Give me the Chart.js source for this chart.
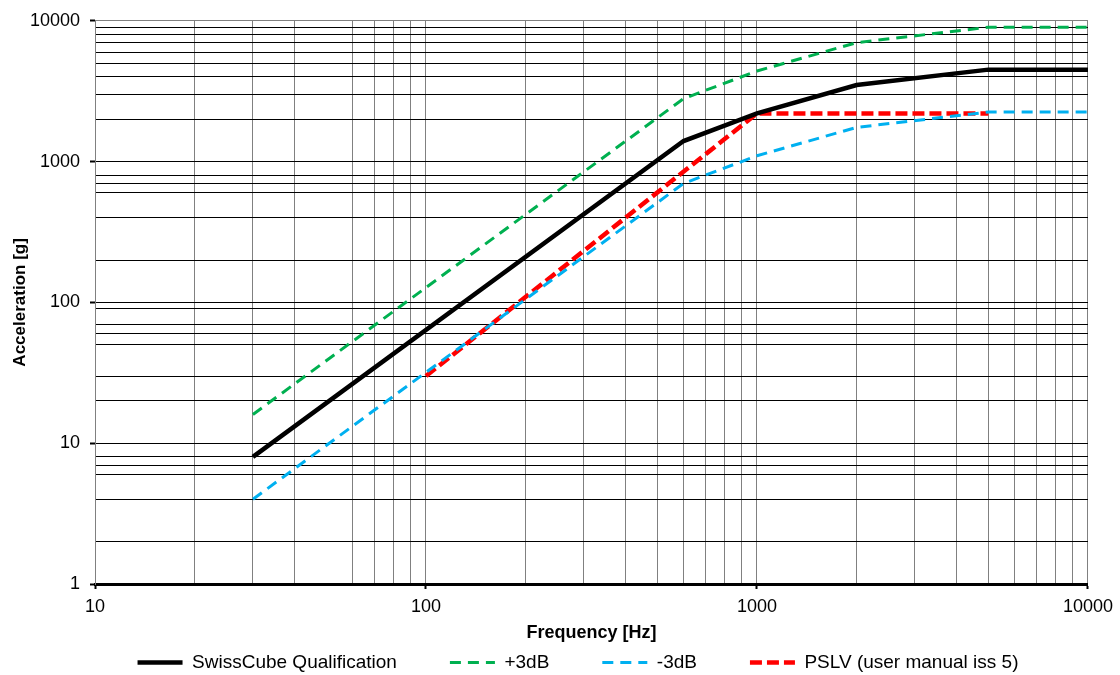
<!DOCTYPE html>
<html>
<head>
<meta charset="utf-8">
<script src="https://cdn.jsdelivr.net/npm/chart.js@4.4.0/dist/chart.umd.min.js"></script>
<style>
    html, body { margin: 0; padding: 0; background: #fff; }
    #wrap { width: 1120px; height: 675px; position: relative; }
</style>
</head>
<body>
<div id="wrap"><canvas id="shock-chart"></canvas></div>
<script>
// waarden (frequentie in Hz, versnelling in g)
const qualFreq = [30, 600, 1000, 2000, 5000, 10000];
const qualAcc = [8, 1400, 2200, 3500, 4500, 4500];

const plusFreq = [30, 600, 1000, 2000, 5000, 10000];
const plusAcc = [16, 2800, 4400, 7000, 9000, 9000];

const minFreq = [30, 600, 1000, 2000, 5000, 10000];
const minAcc = [4, 700, 1100, 1750, 2250, 2250];

const pslvFreq = [100, 1000, 5000];
const pslvAcc = [30, 2200, 2200];

// rasterlijnen zoals ze zichtbaar zijn
const xGridValues = [10, 20, 30, 40, 60, 70, 80, 90,
    100, 200, 300, 400, 500, 600, 700, 800, 900,
    1000, 2000, 3000, 4000, 5000, 6000, 7000, 8000, 9000, 10000];
const yGridValues = [1, 2, 4, 6, 7, 8,
    10, 20, 30, 50, 60, 70, 90,
    100, 200, 400, 600, 700, 800,
    1000, 2000, 3000, 4000, 5000, 6000, 7000, 8000, 9000, 10000];

// labels op de assen
const xLabels = [10, 100, 1000, 10000];
const yLabels = [1, 10, 100, 1000, 10000];

function toPoints(xs, ys) {
    return xs.map((x, i) => ({ x: x, y: ys[i] }));
}

// legenda iets naar rechts en omhoog schuiven
const legendShift = {
    id: 'legendShift',
    afterLayout(chart) {
        const lg = chart.legend;
        lg.left += 33; lg.right += 33;
        lg.top -= 22; lg.bottom -= 22;
    }
};

Chart.defaults.font.family = "'Liberation Sans', Arial, sans-serif";
Chart.defaults.color = '#000';

const ctx = document.getElementById('shock-chart').getContext('2d');

new Chart(ctx, {
    type: 'line',
    data: {
        datasets: [
            {
                label: 'SwissCube Qualification',
                data: toPoints(qualFreq, qualAcc),
                borderColor: '#000000',
                backgroundColor: '#000000',
                borderWidth: 4.5,
                pointRadius: 0,
                fill: false
            },
            {
                label: '+3dB',
                data: toPoints(plusFreq, plusAcc),
                borderColor: '#00b050',
                backgroundColor: '#00b050',
                borderWidth: 3,
                borderDash: [11, 7],
                pointRadius: 0,
                fill: false
            },
            {
                label: '-3dB',
                data: toPoints(minFreq, minAcc),
                borderColor: '#00b0f0',
                backgroundColor: '#00b0f0',
                borderWidth: 3,
                borderDash: [11, 7],
                pointRadius: 0,
                fill: false
            },
            {
                label: 'PSLV (user manual iss 5)',
                data: toPoints(pslvFreq, pslvAcc),
                borderColor: '#ff0000',
                backgroundColor: '#ff0000',
                borderWidth: 4.5,
                borderDash: [12, 5],
                pointRadius: 0,
                fill: false
            }
        ]
    },
    plugins: [legendShift],
    options: {
        responsive: true,
        maintainAspectRatio: false,
        animation: false,
        layout: { padding: { top: 17, right: 30, bottom: -29, left: 0 } },
        scales: {
            x: {
                type: 'logarithmic',
                position: 'bottom',
                min: 10,
                max: 10000,
                afterBuildTicks: axis => { axis.ticks = xGridValues.map(v => ({ value: v })); },
                afterFit: axis => { axis.height = 38; },
                ticks: {
                    autoSkip: false,
                    maxRotation: 0,
                    padding: 7,
                    font: { size: 18 },
                    callback: value => xLabels.includes(value) ? String(value) : ''
                },
                grid: {
                    color: '#808080',
                    lineWidth: 1,
                    tickLength: 5,
                    tickWidth: 2,
                    tickColor: c => xLabels.includes(c.tick.value) ? '#000' : 'rgba(0,0,0,0)'
                },
                border: { display: true, color: '#000', width: 3 },
                title: {
                    display: true,
                    text: 'Frequency [Hz]',
                    font: { size: 18, weight: 'bold' },
                    padding: { top: 0, bottom: -22 }
                }
            },
            y: {
                type: 'logarithmic',
                min: 1,
                max: 10000,
                afterBuildTicks: axis => { axis.ticks = yGridValues.map(v => ({ value: v })); },
                afterFit: axis => { axis.width = 95; },
                ticks: {
                    autoSkip: false,
                    padding: 10,
                    font: { size: 18 },
                    callback: value => yLabels.includes(value) ? String(value) : ''
                },
                grid: {
                    color: c => c.tick.value === 10000 ? '#808080' : '#000',
                    lineWidth: 1,
                    tickLength: 5,
                    tickWidth: 2,
                    tickColor: c => yLabels.includes(c.tick.value) ? '#000' : 'rgba(0,0,0,0)'
                },
                border: { display: true, color: '#808080', width: 1 },
                title: {
                    display: true,
                    text: 'Acceleration [g]',
                    font: { size: 17, weight: 'bold' },
                    padding: { top: 10, bottom: 0 }
                }
            }
        },
        plugins: {
            legend: {
                position: 'bottom',
                labels: {
                    usePointStyle: true,
                    pointStyle: 'line',
                    pointStyleWidth: 45,
                    padding: 53,
                    font: { size: 19 },
                    color: '#000',
                    // streepjes van de lijnen ook in de legenda tonen
                    generateLabels: chart => {
                        const items = Chart.defaults.plugins.legend.labels.generateLabels(chart);
                        items.forEach(item => {
                            const ds = chart.data.datasets[item.datasetIndex];
                            item.lineDash = ds.borderDash || [];
                            item.lineWidth = ds.borderWidth;
                            item.strokeStyle = ds.borderColor;
                        });
                        return items;
                    }
                }
            },
            tooltip: { enabled: false }
        }
    }
});
</script>
</body>
</html>
